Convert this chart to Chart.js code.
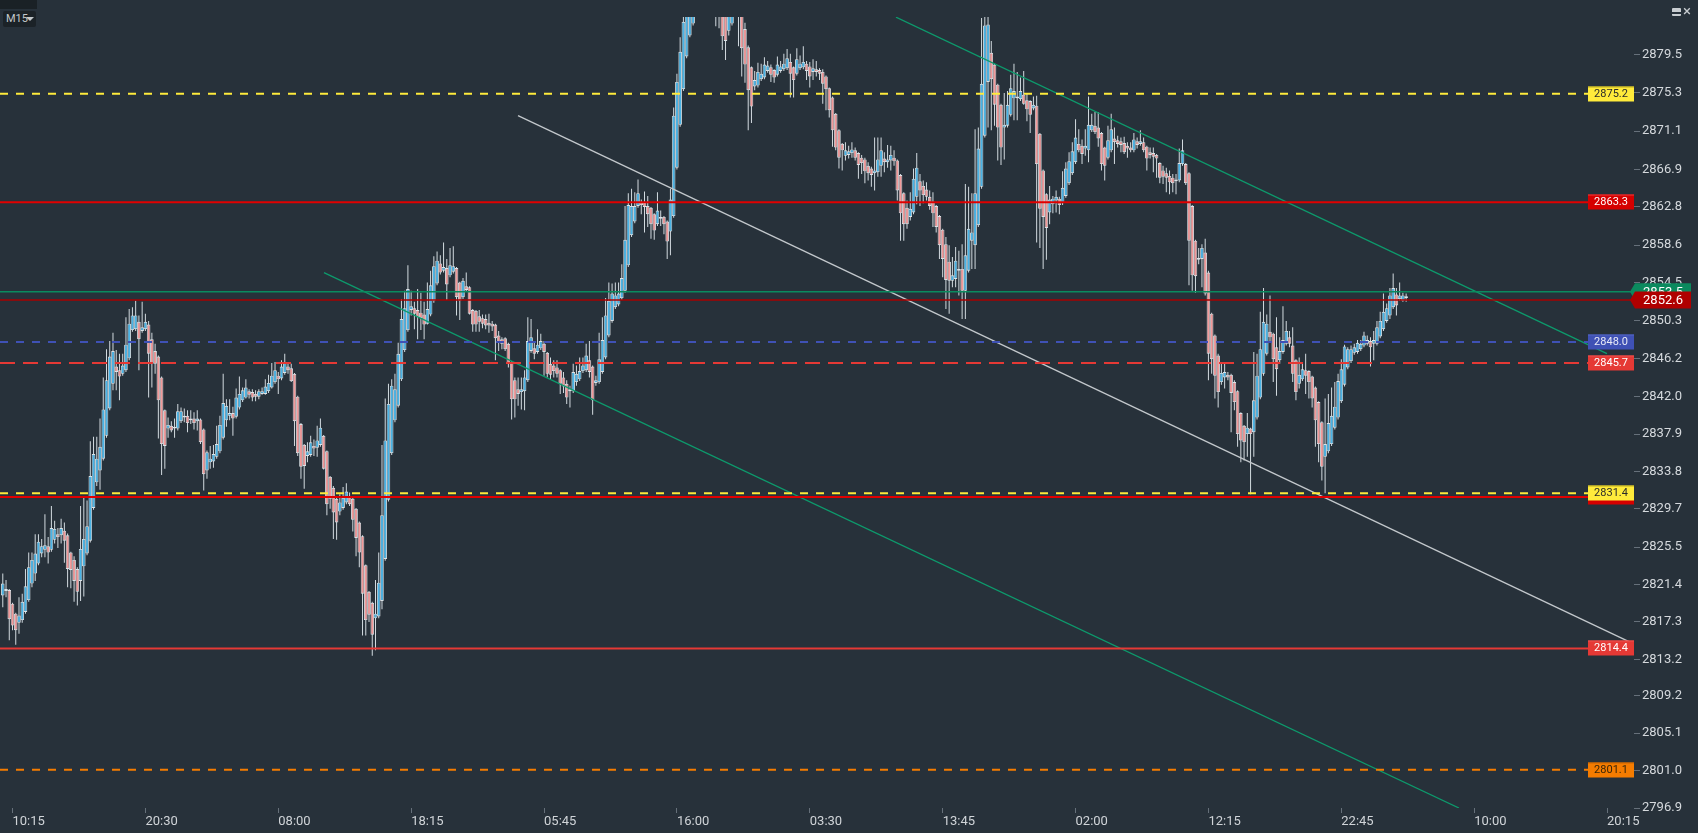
<!DOCTYPE html>
<html><head><meta charset="utf-8">
<script src="https://cdn.jsdelivr.net/npm/chart.js@4.4.1/dist/chart.umd.min.js"></script>
<style>
html,body{margin:0;padding:0;background:#27313a;overflow:hidden}
#wrap{position:relative;width:1698px;height:833px;background:#27313a}
#tb{position:absolute;left:0;top:0;width:37px;height:9px;background:#1a2126}
#tf{position:absolute;left:3px;top:11px;width:33px;height:16px;background:#1b2227;border-radius:2px;color:#c3c8cc;font:11px Roboto,sans-serif;line-height:16px;box-sizing:border-box;padding-left:3px}
#tf .tri{position:absolute;left:23px;top:6px;width:0;height:0;border-left:4px solid transparent;border-right:4px solid transparent;border-top:4px solid #c3c8cc}
#mn{position:absolute;left:1672px;top:8px;width:9px;height:8px;background:#c8cdd1;border-radius:1px}
#mn i{position:absolute;left:0;top:4px;width:9px;height:1.5px;background:#27313a}
#cl{position:absolute;left:1683px;top:3px;color:#c8cdd1;font:15px Roboto,sans-serif;line-height:16px}
</style></head>
<body><div id="wrap"><canvas id="c"></canvas><div id="tb"></div><div id="tf">M15<span class="tri"></span></div><div id="mn"><i></i></div><div id="cl">×</div></div>
<script>
// ---- DATA (M15 candles, index 0 = first visible bar) ----
const O = [
2820.2,2820.9,2820.8,2819.3,2818.2,2817.2,2817.5,2818.4,2819.7,2821.5,
2822.6,2823.7,2824.8,2825.2,2825.6,2825.2,2826.3,2826.9,2826.8,2827.3,
2826.8,2824.9,2824.1,2823.1,2821.8,2823.4,2824.8,2826.2,2829.8,2832.6,
2833.9,2835.2,2837.7,2840.7,2843.4,2845.3,2844.9,2844.5,2844.9,2846.2,
2849.3,2849.4,2850.2,2849.2,2849.4,2849.9,2848.3,2847.0,2846.4,2844.1,
2840.5,2838.5,2838.8,2838.5,2838.5,2839.3,2839.7,2839.9,2839.4,2839.6,
2839.3,2839.5,2838.4,2833.9,2834.8,2834.9,2835.4,2836.0,2837.5,2839.4,
2839.9,2840.2,2839.8,2840.8,2841.6,2841.9,2842.6,2842.5,2842.3,2842.0,
2842.3,2842.3,2842.6,2843.0,2843.6,2844.3,2844.0,2844.6,2845.3,2845.1,
2844.5,2842.0,2839.0,2836.7,2835.5,2835.6,2836.6,2836.4,2836.7,2837.7,
2836.0,2833.2,2832.0,2830.8,2829.4,2829.8,2830.4,2831.0,2830.8,2829.7,
2828.2,2826.7,2823.5,2820.6,2819.4,2817.7,2817.9,2819.6,2824.2,2830.7,
2835.8,2839.4,2841.0,2843.9,2847.1,2849.3,2851.5,2851.7,2851.5,2851.2,
2851.0,2850.0,2851.0,2852.5,2854.4,2856.6,2855.8,2856.1,2855.3,2855.7,
2856.1,2854.5,2852.9,2854.1,2854.0,2851.5,2851.4,2850.8,2850.6,2850.5,
2850.1,2850.0,2849.9,2848.7,2848.3,2848.4,2847.8,2845.8,2843.8,2842.8,
2842.5,2842.6,2843.8,2847.0,2847.3,2846.9,2847.3,2847.8,2846.8,2845.6,
2845.4,2845.2,2844.9,2844.1,2843.4,2842.6,2842.6,2843.6,2843.9,2844.8,
2844.9,2846.0,2845.3,2843.5,2843.6,2844.7,2846.3,2848.7,2850.3,2851.8,
2852.1,2852.8,2853.6,2856.4,2859.7,2861.2,2862.9,2863.3,2863.3,2862.9,
2862.7,2862.0,2860.9,2861.7,2861.7,2861.2,2860.1,2861.8,2867.1,2871.8,
2875.7,2879.3,2881.6,2882.9,2886.5,2888.0,2889.5,2888.6,2889.8,2888.0,
2886.6,2885.6,2886.2,2884.6,2882.1,2882.9,2884.8,2885.2,2884.0,2882.3,
2880.3,2878.1,2876.0,2876.1,2876.8,2877.0,2877.7,2878.1,2877.8,2877.3,
2877.7,2877.9,2878.0,2878.7,2878.1,2877.4,2878.0,2878.1,2878.5,2878.2,
2877.6,2877.9,2877.8,2877.6,2877.1,2875.8,2874.8,2873.0,2871.2,2869.7,
2868.4,2868.5,2868.7,2869.0,2868.7,2868.2,2868.0,2867.3,2867.0,2866.5,
2866.6,2867.3,2868.1,2867.7,2867.9,2868.2,2867.9,2866.3,2864.3,2862.7,
2861.7,2862.2,2863.9,2865.6,2865.1,2864.7,2863.9,2863.4,2862.9,2861.8,
2860.3,2858.7,2856.8,2854.7,2854.9,2856.0,2856.0,2853.6,2855.8,2859.1,
2858.6,2860.8,2865.0,2870.6,2876.5,2879.7,2878.4,2876.2,2874.0,2871.5,
2871.7,2872.9,2874.7,2874.9,2874.6,2875.1,2874.5,2874.4,2873.6,2873.9,
2870.8,2866.8,2864.2,2862.2,2863.1,2863.5,2863.7,2863.2,2864.0,2865.4,
2866.5,2867.7,2869.7,2869.5,2869.2,2869.0,2871.2,2871.7,2871.5,2870.9,
2869.3,2868.2,2869.0,2870.3,2870.1,2870.0,2869.8,2869.5,2869.3,2869.0,
2870.0,2869.7,2869.9,2869.4,2868.8,2868.7,2868.5,2867.6,2866.8,2866.5,
2866.2,2866.0,2865.6,2865.7,2867.5,2867.5,2866.5,2862.9,2859.1,2857.0,
2857.1,2857.8,2855.6,2851.1,2848.7,2846.5,2843.6,2844.1,2844.4,2844.4,
2843.6,2842.6,2840.2,2838.8,2837.9,2838.5,2838.1,2839.7,2841.9,2844.5,
2846.7,2849.1,2848.9,2847.4,2846.0,2846.9,2847.8,2848.5,2847.6,2846.0,
2843.4,2843.9,2844.9,2844.8,2844.2,2843.0,2841.4,2839.2,2835.4,2836.0,
2836.8,2838.6,2839.7,2841.5,2843.3,2845.2,2845.9,2846.8,2846.9,2847.2,
2847.6,2847.8,2848.1,2847.8,2847.8,2848.6,2849.4,2850.3,2850.9,2851.8,
2853.2,2852.7,2852.5,2852.8];
const H = [
2822.6,2821.9,2820.9,2819.4,2818.3,2820.0,2820.4,2823.1,2824.9,2824.9,
2826.9,2826.9,2826.4,2829.1,2826.6,2830.0,2828.4,2827.6,2828.6,2828.2,
2827.0,2825.0,2824.5,2823.3,2830.0,2831.0,2830.6,2837.1,2837.6,2837.6,
2839.6,2844.1,2847.2,2848.1,2849.0,2847.1,2846.7,2846.7,2850.7,2851.6,
2851.8,2852.5,2850.9,2852.4,2851.1,2850.3,2849.0,2847.8,2846.5,2844.2,
2840.6,2839.7,2839.3,2839.6,2841.2,2840.8,2840.7,2840.5,2840.5,2840.3,
2840.5,2839.6,2838.5,2836.1,2836.6,2836.7,2838.8,2839.9,2844.5,2841.7,
2841.7,2840.9,2842.9,2844.2,2843.0,2843.9,2842.8,2842.8,2842.7,2842.8,
2843.0,2843.9,2844.4,2845.7,2845.8,2844.7,2846.0,2846.7,2845.6,2845.6,
2844.6,2842.1,2839.1,2836.8,2837.0,2837.7,2837.3,2838.8,2839.6,2837.8,
2836.1,2833.3,2832.2,2830.9,2831.3,2832.1,2832.5,2831.5,2830.9,2829.8,
2828.3,2826.8,2823.6,2820.7,2819.5,2821.9,2824.9,2836.7,2841.8,2843.4,
2843.9,2844.5,2847.9,2852.7,2853.6,2856.4,2853.6,2852.4,2853.8,2853.4,
2852.4,2854.5,2855.8,2857.4,2857.9,2857.5,2858.9,2857.1,2858.3,2858.5,
2856.2,2854.6,2855.0,2855.6,2854.1,2851.6,2851.5,2851.5,2851.0,2851.0,
2851.1,2850.3,2850.0,2849.2,2848.5,2848.5,2847.9,2845.9,2844.1,2844.1,
2844.1,2844.9,2850.7,2850.5,2848.1,2849.4,2848.9,2848.1,2846.9,2846.3,
2846.0,2846.0,2845.0,2844.7,2843.8,2843.2,2845.6,2845.4,2846.3,2846.3,
2847.8,2848.1,2845.4,2844.3,2849.0,2850.7,2852.8,2854.5,2854.4,2854.5,
2854.5,2856.5,2862.9,2864.3,2864.8,2864.4,2865.8,2863.6,2864.5,2864.0,
2862.8,2862.1,2864.4,2862.4,2861.8,2861.3,2864.8,2873.7,2877.4,2881.4,
2885.0,2886.0,2887.0,2887.5,2889.0,2891.0,2890.5,2891.2,2890.4,2889.0,
2887.5,2887.0,2886.6,2885.2,2885.5,2885.8,2886.0,2886.0,2885.0,2883.0,
2880.5,2878.2,2877.7,2878.6,2878.5,2879.2,2878.8,2878.4,2877.9,2879.3,
2878.8,2879.6,2880.1,2879.6,2878.2,2880.2,2879.4,2880.4,2878.8,2878.7,
2879.0,2878.8,2878.0,2877.9,2877.2,2875.9,2874.9,2873.1,2871.3,2869.8,
2869.9,2869.5,2869.9,2869.3,2868.8,2868.5,2868.2,2867.7,2867.2,2870.4,
2870.4,2870.4,2868.8,2869.6,2869.5,2869.0,2868.0,2866.4,2864.4,2863.5,
2864.4,2867.0,2868.7,2866.4,2865.7,2865.5,2864.6,2864.4,2863.0,2861.9,
2860.4,2859.5,2858.6,2857.3,2858.4,2858.0,2858.7,2865.3,2865.0,2864.3,
2871.3,2871.5,2883.5,2884.5,2884.5,2881.0,2878.5,2876.3,2874.1,2875.3,
2875.5,2877.3,2878.5,2877.6,2877.0,2877.7,2875.2,2874.5,2874.9,2875.0,
2870.9,2866.9,2864.3,2865.1,2864.0,2864.6,2863.9,2866.7,2867.7,2868.8,
2869.9,2872.4,2871.3,2870.2,2871.3,2874.9,2873.0,2873.2,2873.2,2871.0,
2869.4,2871.7,2873.0,2871.5,2870.6,2870.4,2870.5,2869.9,2869.9,2870.9,
2870.4,2871.2,2870.4,2869.5,2869.3,2869.3,2868.6,2867.7,2867.3,2867.1,
2866.8,2866.4,2866.4,2869.2,2870.2,2867.6,2866.6,2863.0,2859.2,2858.3,
2858.7,2859.3,2855.8,2851.2,2848.8,2846.7,2845.8,2845.8,2844.7,2844.5,
2843.8,2842.7,2840.3,2838.9,2840.2,2838.6,2846.9,2846.7,2851.3,2853.9,
2851.0,2853.1,2849.0,2850.7,2848.5,2851.9,2850.3,2849.2,2849.6,2846.1,
2846.3,2845.6,2846.7,2844.9,2844.3,2843.1,2841.5,2839.3,2841.8,2842.3,
2843.0,2843.6,2844.5,2846.1,2847.7,2847.4,2847.6,2847.8,2848.2,2848.2,
2849.1,2848.7,2848.5,2849.2,2850.3,2851.3,2853.3,2852.2,2853.9,2855.5,
2853.9,2854.5,2853.4,2853.3];
const L = [
2818.9,2820.0,2815.3,2816.4,2814.8,2816.0,2817.2,2818.2,2819.5,2821.1,
2821.8,2823.5,2824.4,2824.4,2823.7,2825.0,2825.9,2825.4,2825.9,2823.8,
2821.1,2821.0,2819.5,2819.1,2819.6,2820.1,2824.6,2826.0,2829.6,2832.2,
2831.8,2835.0,2837.5,2840.5,2842.7,2842.7,2841.6,2844.3,2844.7,2846.0,
2849.1,2849.2,2844.9,2849.0,2849.2,2841.9,2843.0,2844.5,2837.4,2833.4,
2834.1,2837.5,2838.1,2837.5,2838.3,2839.1,2839.2,2838.1,2839.0,2838.4,
2838.3,2836.8,2831.7,2833.0,2834.1,2834.2,2835.2,2835.8,2837.3,2838.7,
2839.4,2837.7,2839.6,2840.6,2841.4,2841.8,2841.8,2841.5,2841.5,2841.7,
2842.2,2842.2,2842.4,2842.9,2843.4,2842.3,2843.8,2844.4,2844.5,2843.6,
2836.6,2835.5,2833.0,2831.9,2834.8,2835.4,2835.5,2835.4,2836.5,2834.0,
2829.0,2829.7,2826.4,2826.3,2829.0,2829.6,2830.2,2830.0,2827.2,2824.5,
2823.3,2815.8,2815.8,2817.3,2813.6,2814.2,2817.7,2818.7,2824.0,2830.5,
2835.6,2839.2,2840.8,2843.7,2846.9,2849.1,2850.9,2849.4,2848.3,2849.3,
2848.3,2849.9,2850.8,2852.3,2854.2,2855.4,2855.6,2852.6,2855.1,2855.5,
2850.9,2850.4,2852.7,2853.5,2851.0,2849.1,2849.1,2849.1,2849.5,2849.4,
2849.0,2849.2,2846.0,2847.0,2847.2,2847.0,2845.2,2839.5,2839.7,2841.0,
2840.6,2840.5,2843.6,2846.8,2846.1,2846.7,2847.1,2844.3,2844.1,2843.9,
2844.1,2844.1,2842.3,2842.4,2841.2,2840.8,2842.4,2843.2,2843.7,2844.6,
2844.7,2844.1,2840.0,2843.2,2843.4,2844.5,2846.1,2848.5,2850.1,2851.6,
2851.9,2852.6,2853.4,2856.2,2859.5,2861.0,2862.7,2862.0,2860.0,2860.6,
2859.3,2859.2,2860.7,2860.7,2859.8,2857.1,2857.5,2861.6,2866.9,2871.6,
2875.5,2879.1,2881.4,2882.7,2885.8,2887.0,2887.5,2887.8,2886.5,2885.2,
2882.6,2882.4,2880.0,2878.9,2881.6,2882.7,2883.9,2880.4,2877.1,2876.4,
2871.2,2872.0,2875.6,2875.9,2876.6,2876.8,2877.5,2876.5,2876.4,2877.1,
2877.5,2877.7,2877.8,2874.8,2874.8,2877.2,2877.8,2877.9,2876.7,2875.9,
2876.7,2877.1,2876.7,2874.1,2873.4,2872.6,2869.4,2869.0,2867.0,2866.8,
2867.9,2868.1,2868.2,2867.9,2865.9,2866.4,2865.4,2865.7,2865.0,2864.6,
2866.1,2866.1,2866.6,2867.1,2866.8,2867.3,2863.5,2859.1,2859.1,2860.4,
2861.3,2862.0,2863.1,2862.9,2863.2,2863.5,2862.5,2860.6,2860.0,2857.1,
2855.1,2851.6,2851.1,2854.0,2854.0,2853.1,2850.5,2850.5,2855.6,2856.0,
2856.0,2860.6,2864.8,2870.4,2871.5,2871.2,2871.7,2867.9,2867.4,2868.0,
2871.5,2872.7,2872.3,2872.3,2874.4,2874.0,2872.2,2870.9,2873.4,2858.9,
2858.3,2856.0,2857.0,2860.9,2862.1,2862.2,2862.0,2863.0,2863.8,2865.2,
2866.3,2867.5,2868.8,2867.5,2868.4,2867.7,2871.0,2870.8,2869.4,2866.8,
2865.7,2868.0,2868.8,2867.5,2869.3,2868.8,2868.6,2868.2,2868.8,2868.8,
2869.2,2869.5,2868.8,2866.8,2868.1,2866.6,2866.0,2865.4,2865.3,2864.4,
2864.2,2864.4,2864.2,2865.5,2867.3,2865.2,2854.2,2853.6,2853.4,2856.5,
2854.0,2853.1,2843.8,2844.5,2841.8,2840.8,2843.3,2842.9,2843.8,2838.1,
2840.5,2836.5,2834.8,2835.0,2835.4,2831.3,2835.4,2839.5,2841.7,2844.3,
2846.5,2848.1,2843.6,2842.1,2845.6,2846.7,2847.6,2847.4,2843.6,2841.6,
2842.9,2843.7,2842.3,2841.8,2840.8,2836.5,2834.8,2832.8,2831.4,2835.8,
2836.6,2838.4,2839.5,2841.3,2843.1,2845.0,2845.7,2846.6,2846.7,2847.0,
2847.4,2847.6,2845.3,2846.0,2847.6,2848.4,2849.2,2850.1,2850.5,2851.6,
2850.9,2852.5,2852.4,2852.4];
const C = [
2821.5,2820.7,2817.6,2816.9,2816.4,2818.0,2819.5,2821.2,2823.3,2824.1,
2824.8,2826.1,2825.6,2825.7,2824.9,2827.6,2827.5,2826.6,2827.6,2826.2,
2823.1,2823.0,2821.8,2820.6,2825.3,2826.4,2827.8,2833.3,2835.7,2835.2,
2836.5,2840.6,2843.8,2846.4,2847.0,2844.7,2844.2,2845.4,2847.7,2850.0,
2850.9,2850.9,2848.3,2849.6,2850.2,2846.7,2845.6,2845.6,2841.6,2836.8,
2836.6,2838.9,2838.3,2838.7,2840.4,2840.4,2839.9,2839.1,2839.6,2839.1,
2839.6,2837.0,2833.5,2835.9,2835.2,2835.7,2836.8,2838.9,2841.3,2841.0,
2840.2,2839.6,2841.9,2842.3,2842.7,2843.0,2842.2,2841.9,2842.0,2842.6,
2842.6,2843.1,2843.5,2844.3,2844.9,2843.9,2845.3,2845.8,2844.9,2843.7,
2839.3,2835.8,2834.3,2834.4,2836.0,2837.0,2836.3,2837.2,2838.6,2834.1,
2830.2,2830.8,2829.3,2828.2,2830.4,2830.9,2831.6,2830.2,2828.5,2826.5,
2824.9,2820.4,2817.5,2818.1,2815.9,2818.2,2821.6,2829.0,2837.2,2841.2,
2843.2,2842.8,2846.7,2850.5,2851.7,2853.8,2851.9,2851.1,2850.7,2850.6,
2849.9,2851.6,2854.2,2856.3,2856.9,2855.6,2856.2,2854.3,2856.4,2856.3,
2852.9,2852.5,2854.7,2853.7,2851.1,2849.9,2849.9,2850.2,2850.0,2849.8,
2849.8,2849.7,2848.4,2848.0,2847.8,2847.2,2845.6,2841.7,2841.7,2842.3,
2842.8,2844.1,2848.1,2848.5,2846.7,2847.7,2848.1,2846.9,2844.5,2844.4,
2844.8,2844.5,2843.4,2843.1,2841.9,2842.8,2844.7,2844.5,2844.8,2845.4,
2846.5,2844.7,2841.6,2843.8,2846.1,2848.2,2850.9,2852.5,2853.3,2853.1,
2853.3,2855.0,2859.2,2863.0,2862.9,2862.9,2864.3,2863.0,2862.8,2862.0,
2860.9,2860.2,2862.4,2861.5,2860.9,2859.0,2863.6,2872.8,2876.5,2879.8,
2883.1,2885.2,2886.0,2886.5,2888.0,2889.5,2888.6,2889.8,2888.0,2886.6,
2885.6,2886.2,2881.5,2881.0,2884.6,2884.8,2885.2,2884.2,2880.2,2878.4,
2875.6,2873.8,2876.7,2877.6,2877.4,2878.4,2878.3,2877.3,2877.0,2878.4,
2878.2,2878.5,2879.1,2877.4,2876.7,2879.0,2878.5,2878.7,2877.7,2877.1,
2878.0,2877.6,2877.4,2876.3,2875.7,2873.4,2871.2,2869.3,2868.2,2869.0,
2869.0,2868.9,2869.1,2868.2,2867.4,2867.6,2866.7,2866.5,2866.3,2866.8,
2868.0,2869.0,2867.7,2868.0,2868.5,2867.8,2864.6,2862.1,2860.9,2860.9,
2862.6,2865.9,2867.1,2864.6,2864.1,2863.9,2862.9,2862.1,2860.6,2858.6,
2857.1,2854.8,2854.7,2855.3,2856.9,2855.8,2853.6,2857.5,2860.4,2860.0,
2864.3,2869.2,2876.3,2882.7,2882.8,2876.8,2874.0,2871.5,2869.3,2871.8,
2874.0,2875.8,2875.5,2874.7,2875.5,2874.1,2873.5,2872.9,2874.0,2867.5,
2862.6,2861.7,2860.5,2863.6,2863.7,2863.9,2863.0,2864.9,2867.0,2867.8,
2868.9,2870.4,2869.0,2868.6,2869.5,2871.8,2871.8,2871.0,2870.3,2867.5,
2867.3,2870.1,2871.3,2869.9,2869.7,2869.6,2868.8,2869.2,2869.0,2870.2,
2869.6,2870.0,2869.0,2868.1,2868.5,2868.3,2868.1,2866.0,2866.1,2866.0,
2865.5,2865.4,2865.8,2867.6,2869.0,2865.4,2859.1,2855.3,2855.2,2857.2,
2858.3,2853.3,2846.7,2846.1,2844.3,2842.5,2844.6,2844.7,2844.1,2842.4,
2841.4,2837.9,2837.2,2837.0,2838.6,2837.9,2841.6,2844.3,2847.2,2850.2,
2850.0,2848.5,2846.1,2845.0,2847.0,2848.2,2849.2,2847.8,2844.5,2842.5,
2844.4,2845.0,2844.3,2843.6,2841.8,2839.4,2836.8,2834.3,2836.8,2839.1,
2839.9,2840.9,2843.7,2845.0,2847.5,2847.2,2847.2,2847.4,2847.9,2847.8,
2848.7,2848.2,2847.4,2848.2,2849.6,2850.3,2851.3,2851.7,2853.1,2853.9,
2852.0,2853.1,2853.1,2853.0];

const yTickValues = [2879.5,2875.3,2871.1,2866.9,2862.8,2858.6,2854.5,2850.3,2846.2,2842.0,2837.9,2833.8,2829.7,2825.5,2821.4,2817.3,2813.2,2809.2,2805.1,2801.0,2796.9];
const xTickBars = [3,44,85,126,167,208,249,290,331,372,413,454,495];
const xTickLabels = ['10:15','20:30','08:00','18:15','05:45','16:00','03:30','13:45','02:00','12:15','22:45','10:00','20:15'];

const levelValues = [2831.0, 2875.2, 2863.3, 2848.0, 2845.7, 2831.4, 2814.4, 2801.1];
const askPrice = 2853.5;
const bidPrice = 2852.6;
// trend lines: [startBar, startPrice, endBar, endPrice]
const trendWhite = [158.97, 2872.81, 501.76, 2815.14];
const trendGreenUpper = [275.6, 2883.6, 494.97, 2846.72];
const trendGreenLower = [99.1, 2855.6, 449.3, 2796.9];

// ---- STYLES ----
const levelStyles = [
  {line:'#e00000', w:2, dash:[], box:'#d50000', edge:'#d50000', text:'#ffffff'},
  {line:'#ffeb3b', w:2, dash:[8,8], box:'#ffeb3b', edge:'#bfae20', text:'#2b2b2b'},
  {line:'#e00000', w:2, dash:[], box:'#d50000', edge:'#ef3a3a', text:'#ffffff'},
  {line:'#3f51b5', w:2, dash:[8,8], box:'#3f51b5', edge:'#5566c4', text:'#e8eaf6'},
  {line:'#e53935', w:2, dash:[15,8], box:'#e53935', edge:'#ef5350', text:'#ffffff'},
  {line:'#ffeb3b', w:2, dash:[8,8], box:'#ffeb3b', edge:'#bfae20', text:'#2b2b2b'},
  {line:'#e53935', w:2, dash:[], box:'#e53935', edge:'#ef5350', text:'#ffffff'},
  {line:'#f57c00', w:2, dash:[8,8], box:'#f57c00', edge:'#c96400', text:'#3a2608'}
];
const BULL = '#4ab4e6', BEAR = '#f29a9a', OUTLINE = '#dce3e7', WICK = '#d3dbe0';
const X_MIN = -0.86, X_MAX = 503.31;

const idx = C.map((_, i) => i);
const wickData = idx.map(i => ({x: i, y: [L[i], H[i]]}));
const bodyData = idx.map(i => ({x: i, y: [O[i], C[i]]}));
const bodyColors = idx.map(i => C[i] >= O[i] ? BULL : BEAR);

function seg(t){ return [{x:t[0], y:t[1]}, {x:t[2], y:t[3]}]; }
function lineDs(data, color, width, dash){
  return {type:'line', data, borderColor:color, borderWidth:width, borderDash:dash||[], pointRadius:0, pointHoverRadius:0, fill:false, tension:0, order:0, clip:0};
}

const datasets = [];
levelValues.forEach((v, i) => {
  const s = levelStyles[i];
  datasets.push(lineDs([{x:X_MIN, y:v}, {x:X_MAX, y:v}], s.line, s.w, s.dash));
});
datasets.push(lineDs([{x:X_MIN, y:askPrice}, {x:X_MAX, y:askPrice}], '#0b8a5e', 1.4));
datasets.push(lineDs([{x:X_MIN, y:bidPrice}, {x:X_MAX, y:bidPrice}], '#a80000', 1.4));
datasets.push(lineDs(seg(trendWhite), '#c3c8cc', 1.3));
datasets.push(lineDs(seg(trendGreenUpper), '#0d9a6c', 1.3));
datasets.push(lineDs(seg(trendGreenLower), '#0d9a6c', 1.3));
datasets.push({type:'bar', data: bodyData, backgroundColor: bodyColors, borderColor: OUTLINE, borderWidth: 0.9, borderSkipped: false, barThickness: 3.6, grouped: false, minBarLength: 1.2, inflateAmount: 0, order: 2, clip: 0});
datasets.push({type:'bar', data: wickData, backgroundColor: WICK, borderWidth: 0, barThickness: 1, grouped: false, inflateAmount: 0, order: 3, clip: 0});

const labelPlugin = {
  id: 'priceLabels',
  afterDatasetsDraw(chart){
    const {ctx, chartArea: a, scales: {y}} = chart;
    ctx.save();
    ctx.textAlign = 'center';
    ctx.textBaseline = 'middle';
    ctx.font = '11px Roboto, sans-serif';
    levelValues.forEach((v, i) => {
      const s = levelStyles[i];
      const py = Math.round(y.getPixelForValue(v));
      const x0 = a.right - 46;
      ctx.fillStyle = s.box;
      ctx.fillRect(x0, py - 7.5, 46, 15);
      ctx.fillStyle = s.edge;
      ctx.fillRect(x0, py - 7.5, 46, 1);
      ctx.fillStyle = s.text;
      ctx.fillText(v.toFixed(1), x0 + 23, py + 0.5);
    });
    [[askPrice, '#0b8a5e'], [bidPrice, '#b00000']].forEach(([v, col]) => {
      const py = y.getPixelForValue(v);
      ctx.fillStyle = col;
      ctx.beginPath();
      ctx.moveTo(a.right - 4, py);
      ctx.lineTo(a.right + 1, py - 8.5);
      ctx.lineTo(a.right + 57, py - 8.5);
      ctx.lineTo(a.right + 57, py + 8.5);
      ctx.lineTo(a.right + 1, py + 8.5);
      ctx.closePath();
      ctx.fill();
      ctx.fillStyle = '#ffffff';
      ctx.font = '13px Roboto, sans-serif';
      ctx.fillText(v.toFixed(1), a.right + 29, py + 1);
    });
    ctx.restore();
  }
};

new Chart(document.getElementById('c'), {
  type: 'bar',
  data: {datasets},
  plugins: [labelPlugin],
  options: {
    responsive: true,
    maintainAspectRatio: false,
    animation: false,
    events: [],
    layout: {padding: {top: 17, left: 0, right: 0, bottom: 0}},
    plugins: {legend: {display: false}, tooltip: {enabled: false}},
    scales: {
      x: {
        type: 'linear', min: X_MIN, max: X_MAX, offset: false, bounds: 'data',
        grid: {display: true, drawOnChartArea: false, drawTicks: true, tickLength: 5, color: '#66707a', offset: false},
        border: {display: false},
        ticks: {autoSkip: false, maxRotation: 0, minRotation: 0, align: 'start', padding: 1,
          color: '#d0d4d8', font: {family: 'Roboto', size: 13},
          callback: (v, i) => xTickLabels[i] || ''},
        afterBuildTicks: s => { s.ticks = xTickBars.map(v => ({value: v})); },
        afterFit: s => { s.height = 25; }
      },
      y: {
        type: 'linear', position: 'right', min: 2796.9, max: 2883.62, beginAtZero: false, bounds: 'data',
        grid: {display: true, drawOnChartArea: false, drawTicks: true, tickLength: 6, color: '#66707a'},
        border: {display: false},
        ticks: {autoSkip: false, padding: 2, color: '#d5d9dd', font: {family: 'Roboto', size: 13},
          callback: v => Number(v).toFixed(1)},
        afterBuildTicks: s => { s.ticks = yTickValues.map(v => ({value: v})); },
        afterFit: s => { s.width = 64; }
      }
    }
  }
});
</script>
</body></html>
